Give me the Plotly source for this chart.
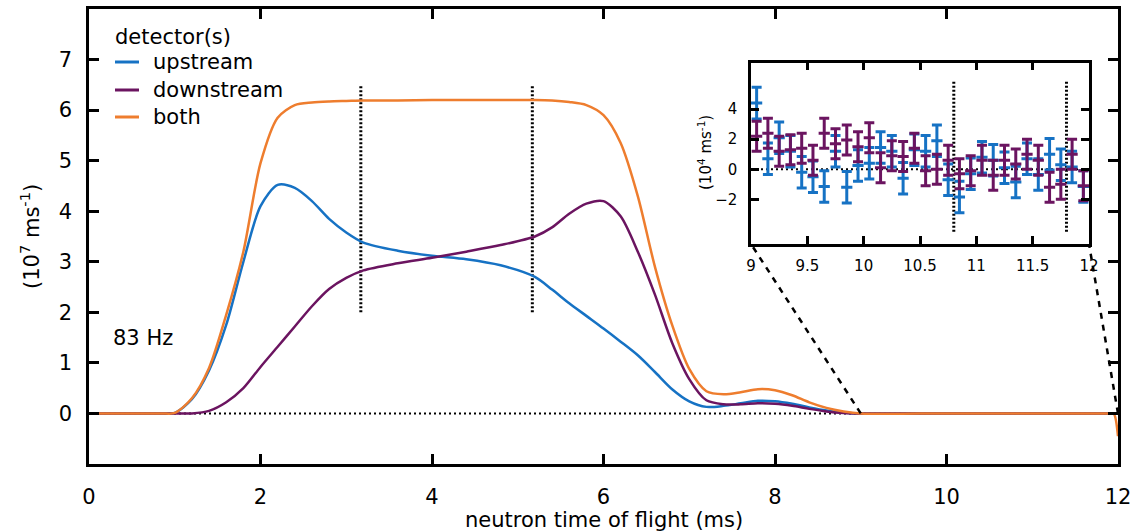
import plotly.graph_objects as go

W, H = 1138, 532
FONT = "DejaVu Sans"
BLUE = "#1672c4"
PURPLE = "#6b1460"
ORANGE = "#ee7d2e"

# ---- main curves: neutron time of flight (ms) and rate (10^7 per ms) ----
t_ms = [0, 0.5, 0.85, 1.0, 1.2, 1.4, 1.6, 1.8, 2.0, 2.2, 2.4,
        2.6, 2.8, 3.0, 3.2, 3.6, 4.0, 4.4, 4.8, 5.2, 5.4,
        5.6, 5.8, 6.0, 6.2, 6.4, 6.6, 6.8, 7.0, 7.2, 7.4,
        7.6, 7.8, 8.0, 8.2, 8.4, 8.6, 8.8, 9.0, 10.0, 11.0,
        11.9, 11.95, 12.0]
upstream = [0, 0, 0, 0.01, 0.28, 0.85, 1.75, 3.0, 4.1, 4.52, 4.46,
            4.2, 3.85, 3.58, 3.38, 3.22, 3.12, 3.05, 2.93, 2.7, 2.45,
            2.18, 1.93, 1.68, 1.42, 1.15, 0.82, 0.48, 0.24, 0.13, 0.15,
            0.2, 0.25, 0.24, 0.19, 0.12, 0.06, 0.02, 0, 0, 0,
            0, 0, 0]
downstream = [0, 0, 0, 0, 0, 0.05, 0.22, 0.5, 0.92, 1.32, 1.72,
              2.12, 2.46, 2.68, 2.83, 2.97, 3.08, 3.2, 3.33, 3.5, 3.68,
              3.95, 4.15, 4.2, 3.9, 3.2, 2.35, 1.4, 0.68, 0.26, 0.18,
              0.18, 0.2, 0.19, 0.15, 0.09, 0.04, 0.01, 0, 0, 0,
              0, 0, 0]
both = [0, 0, 0, 0.01, 0.3, 0.9, 1.95, 3.2, 4.95, 5.85, 6.1,
        6.15, 6.17, 6.18, 6.19, 6.19, 6.2, 6.2, 6.2, 6.2, 6.19,
        6.16, 6.1, 5.9, 5.35, 4.3, 2.9, 1.75, 0.88, 0.44, 0.38,
        0.42, 0.48, 0.46, 0.36, 0.22, 0.11, 0.04, 0, 0, 0,
        0, 0, -0.45]

# ---- inset: tail region, rate in 10^4 per ms with error bars ----
inset_t = [9.05, 9.15, 9.25, 9.35, 9.45, 9.55, 9.65, 9.75, 9.85, 9.95,
           10.05, 10.15, 10.25, 10.35, 10.45, 10.55, 10.65, 10.75, 10.85, 10.95,
           11.05, 11.15, 11.25, 11.35, 11.45, 11.55, 11.65, 11.75, 11.85, 11.95]
inset_up = [4.4, 0.7, 2.1, 1.2, -0.2, -0.5, -1.15, 1.2, -1.2, 0.25,
            0.4, 1.45, 1.2, -0.6, 1.3, 1.2, 1.9, -0.7, -1.85, -0.3,
            0.8, 0.6, 0.1, -0.85, 0.7, -0.35, 1.0, 0.3, 0.15, -1.15]
inset_up_err = [1.05] * 30
inset_down = [2.2, 2.4, 1.2, 1.3, 1.4, 0.6, 2.4, 1.7, 1.95, 1.5,
              2.1, 0.1, 0.9, 0.85, 1.4, -0.1, 0.0, 0.6, -0.3, -0.1,
              0.6, -0.4, 0.6, 0.35, 1.0, 0.6, -1.2, -1.0, 1.0, -1.1]
inset_down_err = [1.0] * 30

x_ticks = [0, 2, 4, 6, 8, 10, 12]
y_ticks = [0, 1, 2, 3, 4, 5, 6, 7]
inset_x_ticks = [9, 9.5, 10, 10.5, 11, 11.5, 12]
inset_x_labels = ["9", "9.5", "10", "10.5", "11", "11.5", "12"]
inset_y_ticks = [-2, 0, 2, 4]

gate_edges = [3.17, 5.17]
gate_span = [2.0, 6.5]
inset_gate_edges = [10.8, 11.8]
inset_gate_span = [-4.15, 5.85]

# ---- layout geometry ----
main_x_dom = [89 / W, 1118 / W]
main_y_dom = [1 - 464 / H, 1 - 9 / H]
main_x_rng = [0, 12]
main_y_rng = [-1, 8]
inset_x_dom = [751 / W, 1089 / W]
inset_y_dom = [1 - 244 / H, 1 - 62.5 / H]
inset_x_rng = [9, 12]
inset_y_rng = [-4.97, 7.1]

fig = go.Figure()

dotted = dict(color="black", width=3, dash="2px,2px")

# reference zero line and gate markers
fig.add_trace(go.Scatter(x=[main_x_rng[0], main_x_rng[1]], y=[0, 0], mode="lines",
                         line=dict(color="black", width=2, dash="2px,3px"),
                         hoverinfo="skip", showlegend=False))
for e in gate_edges:
    fig.add_trace(go.Scatter(x=[e, e], y=gate_span, mode="lines", line=dotted,
                             hoverinfo="skip", showlegend=False))

for name, vals, col in [("upstream", upstream, BLUE),
                        ("downstream", downstream, PURPLE),
                        ("both", both, ORANGE)]:
    fig.add_trace(go.Scatter(x=t_ms, y=vals, mode="lines", name=name,
                             line=dict(color=col, width=2.5, shape="spline", smoothing=0.8),
                             showlegend=False))

# inset
fig.add_trace(go.Scatter(x=[9, 12], y=[0, 0], mode="lines", xaxis="x2", yaxis="y2",
                         line=dict(color="black", width=2, dash="2px,3px"),
                         hoverinfo="skip", showlegend=False))
for e in inset_gate_edges:
    fig.add_trace(go.Scatter(x=[e, e], y=inset_gate_span, mode="lines", xaxis="x2", yaxis="y2",
                             line=dotted, hoverinfo="skip", showlegend=False))

for vals, errs, col in [(inset_up, inset_up_err, BLUE), (inset_down, inset_down_err, PURPLE)]:
    fig.add_trace(go.Scatter(x=inset_t, y=vals, mode="markers", xaxis="x2", yaxis="y2",
                             marker=dict(symbol="line-ew", size=8, color=col,
                                         line=dict(color=col, width=3)),
                             error_y=dict(type="data", array=errs, color=col,
                                          thickness=3, width=5),
                             showlegend=False))

axis_common = dict(showline=True, linecolor="black", mirror="ticks", ticks="inside",
                   showgrid=False, zeroline=False, tickcolor="black", automargin=False)

fig.update_layout(
    width=W, height=H,
    margin=dict(l=0, r=0, t=0, b=0),
    paper_bgcolor="white", plot_bgcolor="white",
    font=dict(family=FONT, color="black"),
    xaxis=dict(domain=main_x_dom, range=main_x_rng, tickvals=x_ticks,
               linewidth=2.5, ticklen=10, tickwidth=2.5,
               tickfont=dict(size=21), ticklabelstandoff=12, **axis_common),
    yaxis=dict(domain=main_y_dom, range=main_y_rng, tickvals=y_ticks,
               linewidth=2.5, ticklen=10, tickwidth=2.5,
               tickfont=dict(size=21), ticklabelstandoff=10, **axis_common),
    xaxis2=dict(domain=inset_x_dom, range=inset_x_rng, tickvals=inset_x_ticks,
                ticktext=inset_x_labels, anchor="y2",
                linewidth=2.5, ticklen=8, tickwidth=2.5,
                tickfont=dict(size=15), ticklabelstandoff=6, **axis_common),
    yaxis2=dict(domain=inset_y_dom, range=inset_y_rng, tickvals=inset_y_ticks,
                anchor="x2",
                linewidth=2.5, ticklen=8, tickwidth=2.5,
                tickfont=dict(size=15), ticklabelstandoff=8, **axis_common),
)


def to_paper(x, y, xd, yd, xr, yr):
    px = xd[0] + (x - xr[0]) / (xr[1] - xr[0]) * (xd[1] - xd[0])
    py = yd[0] + (y - yr[0]) / (yr[1] - yr[0]) * (yd[1] - yd[0])
    return px, py


# dashed connectors from the zoomed range to the inset corners
for xm, corner in [(inset_x_rng[0], inset_x_dom[0]), (inset_x_rng[1], inset_x_dom[1])]:
    px, py = to_paper(xm, 0, main_x_dom, main_y_dom, main_x_rng, main_y_rng)
    fig.add_shape(type="line", xref="paper", yref="paper",
                  x0=px, y0=py, x1=corner, y1=inset_y_dom[0],
                  line=dict(color="black", width=2.5, dash="6px,6px"))

ann = []
ann.append(dict(text="neutron time of flight (ms)", x=sum(main_x_dom) / 2, y=1 - 520 / H,
                xref="paper", yref="paper", showarrow=False, font=dict(size=21),
                xanchor="center", yanchor="middle"))
ann.append(dict(text="(10<sup>7</sup> ms<sup>-1</sup>)", x=30 / W, y=1 - 237 / H,
                xref="paper", yref="paper", showarrow=False, font=dict(size=21),
                textangle=-90, xanchor="center", yanchor="middle"))
ann.append(dict(text="(10<sup>4</sup> ms<sup>-1</sup>)", x=705 / W, y=1 - 153 / H,
                xref="paper", yref="paper", showarrow=False, font=dict(size=15),
                textangle=-90, xanchor="center", yanchor="middle"))
ann.append(dict(text="83 Hz", x=111 / W, y=1 - 338 / H, xref="paper", yref="paper",
                showarrow=False, font=dict(size=21), xanchor="left", yanchor="middle"))

# legend block
ann.append(dict(text="detector(s)", x=113 / W, y=1 - 37 / H, xref="paper", yref="paper",
                showarrow=False, font=dict(size=21), xanchor="left", yanchor="middle"))
legend_rows = [("upstream", BLUE, 62), ("downstream", PURPLE, 90), ("both", ORANGE, 117)]
for label, col, ypx in legend_rows:
    fig.add_shape(type="line", xref="paper", yref="paper",
                  x0=115 / W, x1=139 / W, y0=1 - ypx / H, y1=1 - ypx / H,
                  line=dict(color=col, width=3))
    ann.append(dict(text=label, x=151 / W, y=1 - ypx / H, xref="paper", yref="paper",
                    showarrow=False, font=dict(size=21), xanchor="left", yanchor="middle"))

fig.update_layout(annotations=ann)
fig.write_html("out.html")
